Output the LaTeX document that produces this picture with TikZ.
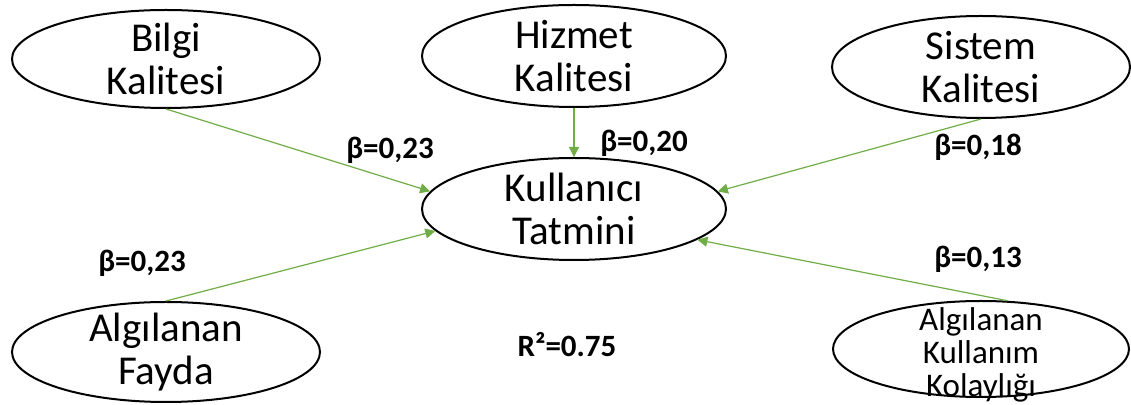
\documentclass[tikz,border=0pt]{standalone}
\usepackage{fontspec}
\setmainfont{Carlito}
\usetikzlibrary{arrows.meta,shapes.geometric}
\definecolor{pathgreen}{RGB}{112,173,71}
\begin{document}
\begin{tikzpicture}[x=0.5pt,y=-0.5pt,
  oval/.style={ellipse, draw=black, line width=1pt, inner sep=0pt},
  caption/.style={font=\fontsize{20.5}{21.5}\selectfont, align=center, inner sep=0pt},
  smallcaption/.style={font=\fontsize{16.5}{16.5}\selectfont, align=center, inner sep=0pt},
  coef/.style={font=\fontsize{15.5}{18}\selectfont\bfseries, anchor=base, inner sep=0pt},
  effect/.style={draw=pathgreen, line width=0.6pt, -{Triangle[length=5pt,width=5pt]}}
]
\useasboundingbox (0,0) rectangle (1131,405);

% constructs
\node[oval, minimum width=154pt, minimum height=49pt] (bilgi)  at (166,59)  {};
\node[oval, minimum width=152pt, minimum height=51pt] (hizmet) at (574,56)  {};
\node[oval, minimum width=149pt, minimum height=51pt] (sistem) at (981,67)  {};
\node[oval, minimum width=152pt, minimum height=51pt] (tatmin) at (574,209) {};
\node[oval, minimum width=154pt, minimum height=50pt] (fayda)  at (166,352) {};
\node[oval, minimum width=148pt, minimum height=48pt] (kolay)  at (981,349) {};

% construct names
\node[caption] (bilgiT)  at (bilgi)  {Bilgi\\Kalitesi};
\node[caption] (hizmetT) at (hizmet) {Hizmet\\Kalitesi};
\node[caption] (sistemT) at (sistem) {Sistem\\Kalitesi};
\node[caption] (tatminT) at (tatmin) {Kullanıcı\\Tatmini};
\node[caption] (faydaT)  at (fayda)  {Algılanan\\Fayda};
\node[smallcaption, yshift=-3pt] (kolayT) at (kolay) {Algılanan\\Kullanım\\Kolaylığı};

% paths into user satisfaction
\draw[effect] (bilgi.south)  -- (tatmin.173);
\draw[effect] (hizmet.south) -- (tatmin.north);
\draw[effect] (sistem.south) -- (tatmin.7);
\draw[effect] (fayda.north)  -- (tatmin.189);
\draw[effect] (kolay.61)     -- (tatmin.346);

% path coefficients
\node[coef] (b1) at (390,159) {β=0,23};
\node[coef] (b2) at (644,152) {β=0,20};
\node[coef] (b3) at (978,156) {β=0,18};
\node[coef] (b4) at (142,272) {β=0,23};
\node[coef] (b5) at (978,268) {β=0,13};
\node[coef] (r2) at (567,357) {R²=0.75};
\end{tikzpicture}
\end{document}
